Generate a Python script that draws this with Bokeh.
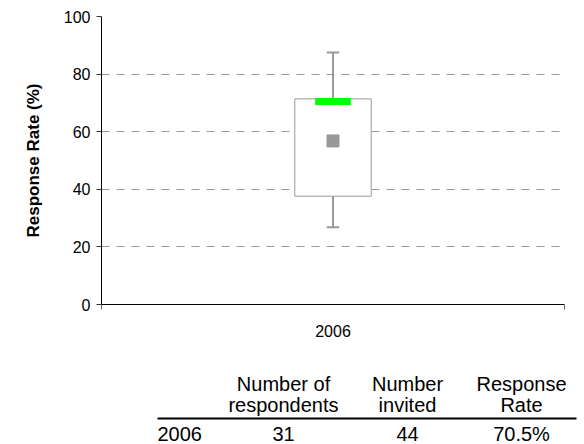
from bokeh.plotting import figure
from bokeh.layouts import column
from bokeh.models import Range1d, FixedTicker, ColumnDataSource
from bokeh.embed import file_html
from bokeh.resources import INLINE
from bokeh.core.properties import value

# ---- data ----
years = ["2006"]
q1 = [37.6]
q3 = [71.4]
median = [70.5]
mean = [56.8]
whisker_low = [26.8]
whisker_high = [87.5]
y_ticks = [0, 20, 40, 60, 80, 100]

respondents = [31]
invited = [44]
response_rate = [70.5]
header_line1 = ["Number of", "Number", "Response"]
header_line2 = ["respondents", "invited", "Rate"]

FONT = "Liberation Sans"
GRAY = "#9a9a9a"

n = len(years)
xc = [i + 0.5 for i in range(n)]
box_w, med_w, cap_w = 0.165, 0.077, 0.027

src = ColumnDataSource(dict(
    x=xc,
    left=[x - box_w / 2 for x in xc], right=[x + box_w / 2 for x in xc],
    mleft=[x - med_w / 2 for x in xc], mright=[x + med_w / 2 for x in xc],
    cleft=[x - cap_w / 2 for x in xc], cright=[x + cap_w / 2 for x in xc],
    q1=q1, q3=q3, med=median, mean=mean, lo=whisker_low, hi=whisker_high,
))

W = 584
CH = 348
p = figure(width=W, height=CH, x_range=Range1d(0, n), y_range=Range1d(0, 100),
           output_backend="svg", toolbar_location=None,
           min_border_left=101, min_border_right=20, min_border_top=16, min_border_bottom=44)
p.outline_line_color = None
p.background_fill_color = "white"
p.frame_align = False

# whiskers
p.segment(x0="x", y0="q3", x1="x", y1="hi", source=src, line_color=GRAY, line_width=2)
p.segment(x0="x", y0="lo", x1="x", y1="q1", source=src, line_color=GRAY, line_width=2)
p.segment(x0="cleft", y0="hi", x1="cright", y1="hi", source=src, line_color=GRAY, line_width=2)
p.segment(x0="cleft", y0="lo", x1="cright", y1="lo", source=src, line_color=GRAY, line_width=2)
# box
p.quad(left="left", right="right", bottom="q1", top="q3", source=src,
       fill_color="white", line_color=GRAY, line_width=1)
# median
p.segment(x0="mleft", y0="med", x1="mright", y1="med", source=src,
          line_color="#00ff00", line_width=7, line_cap="butt")
# mean
p.scatter(x="x", y="mean", source=src, marker="square", size=12,
          fill_color="#999999", line_color="#999999")

# axes
p.xgrid.visible = False
p.ygrid.ticker = FixedTicker(ticks=y_ticks)
p.ygrid.grid_line_color = "#999999"
p.ygrid.grid_line_dash = "8 7"
p.ygrid.grid_line_width = 1

ya = p.yaxis[0]
ya.ticker = FixedTicker(ticks=y_ticks)
ya.axis_line_color = "black"
ya.major_tick_line_color = "#333333"
ya.major_tick_out = 5
ya.major_tick_in = 0
ya.minor_tick_line_color = None
ya.major_label_text_font = FONT
ya.major_label_text_font_size = "16px"
ya.major_label_text_color = "black"
ya.major_label_standoff = 6
ya.axis_label = "Response Rate (%)"
ya.axis_label_text_font = FONT
ya.axis_label_text_font_size = "17px"
ya.axis_label_text_font_style = "bold"
ya.axis_label_text_color = "black"
ya.axis_label_standoff = 18

xa = p.xaxis[0]
xa.ticker = FixedTicker(ticks=xc, minor_ticks=list(range(n + 1)))
overrides = {}
for x, y in zip(xc, years):
    overrides[x] = y
xa.major_label_overrides = overrides
xa.axis_line_color = "black"
xa.major_tick_out = 0
xa.major_tick_in = 0
xa.minor_tick_out = 5
xa.minor_tick_in = 0
xa.minor_tick_line_color = "#666666"
xa.major_label_text_font = FONT
xa.major_label_text_font_size = "16px"
xa.major_label_text_color = "black"
xa.major_label_standoff = 15

# ---- table ----
TH = 444 - CH
t = figure(width=W, height=TH, x_range=Range1d(0, W), y_range=Range1d(TH, 0),
           output_backend="svg", toolbar_location=None,
           x_axis_location=None, y_axis_location=None, min_border=0)
t.grid.visible = False
t.outline_line_color = None
t.frame_align = False

col_x = [283, 407, 521]
label_x = 157
y_h1, y_h2, y_rule, y_row = 35, 56, 70, 85
TFS = "20px"

hdr = ColumnDataSource(dict(x=col_x, y1=[y_h1] * 3, y2=[y_h2] * 3, l1=header_line1, l2=header_line2))
tstyle = dict(text_font=value(FONT), text_font_size=TFS, text_color="black",
              text_align="center", text_baseline="middle")
t.text(x="x", y="y1", text="l1", source=hdr, **tstyle)
t.text(x="x", y="y2", text="l2", source=hdr, **tstyle)
t.segment(x0=[label_x], y0=[y_rule], x1=[576], y1=[y_rule], line_color="black", line_width=2)

row_vals = [str(respondents[0]), str(invited[0]), "%.1f%%" % response_rate[0]]
rows = ColumnDataSource(dict(x=col_x, y=[y_row] * 3, v=row_vals))
t.text(x="x", y="y", text="v", source=rows, **tstyle)
t.text(x=[label_x], y=[y_row], text=years, text_font=value(FONT), text_font_size=TFS,
       text_color="black", text_align="left", text_baseline="middle")

layout = column(p, t, spacing=0)
open("out.html", "w").write(file_html(layout, INLINE))
